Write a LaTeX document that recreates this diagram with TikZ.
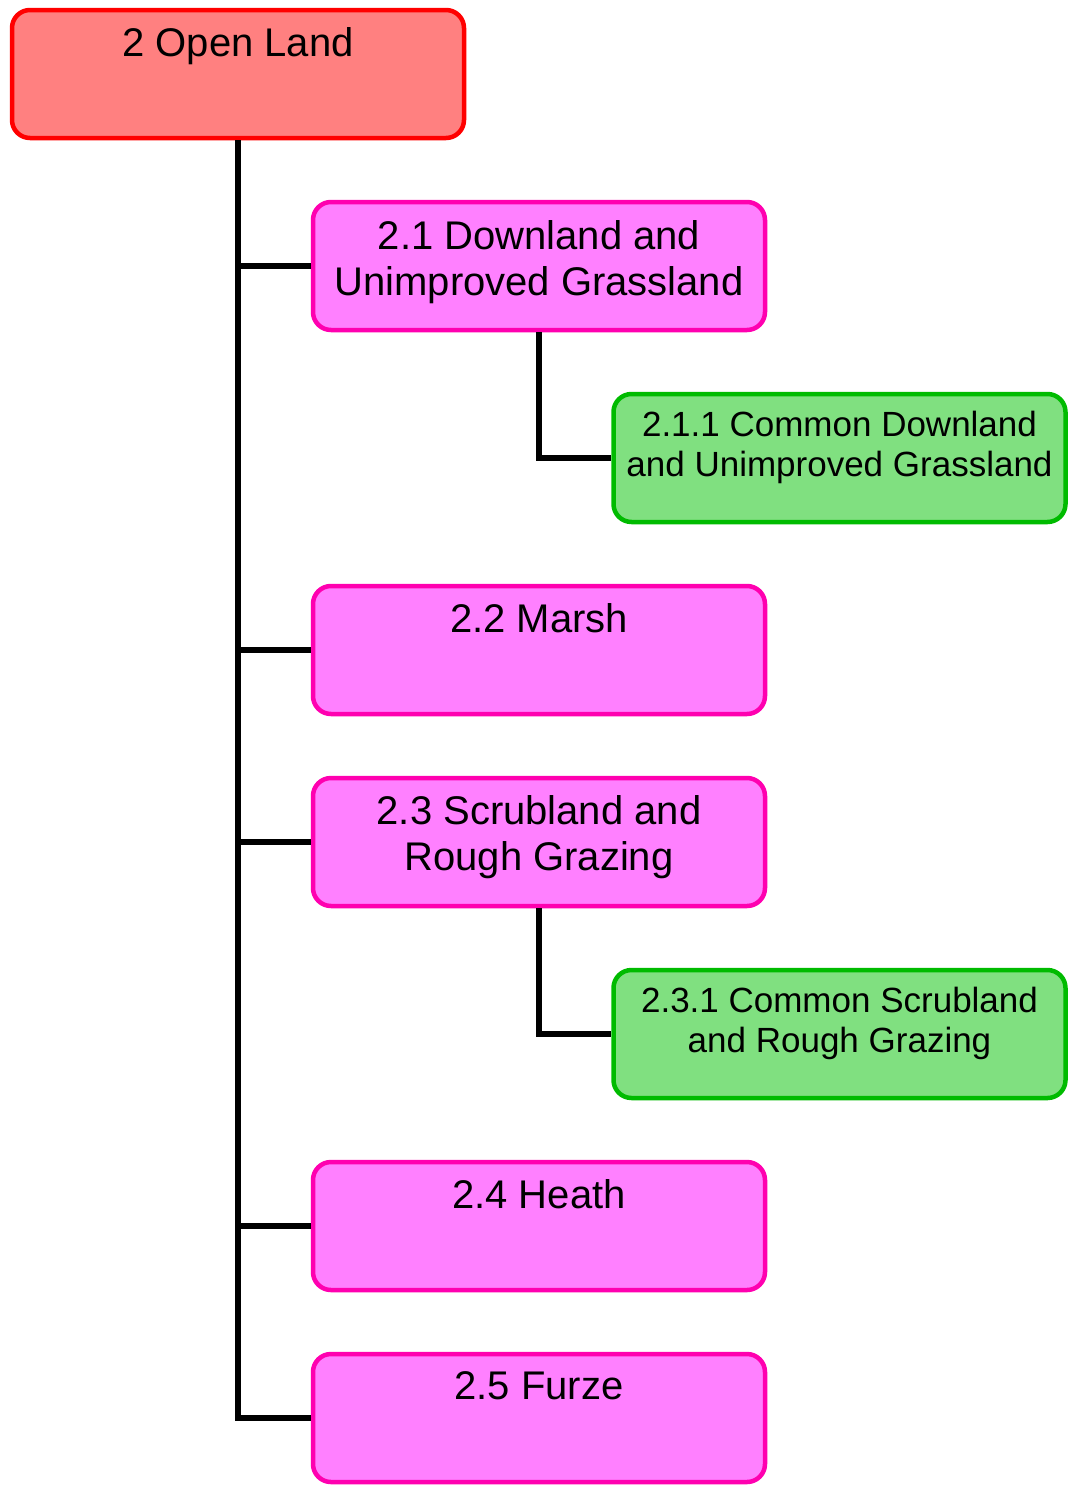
\documentclass[tikz,border=0pt]{standalone}
\usepackage{fontspec}
\setmainfont{Liberation Sans}
\definecolor{rootfill}{RGB}{255,128,128}
\definecolor{rootdraw}{RGB}{255,0,0}
\definecolor{pinkfill}{RGB}{255,128,255}
\definecolor{pinkdraw}{RGB}{255,0,176}
\definecolor{greenfill}{RGB}{128,224,128}
\definecolor{greendraw}{RGB}{0,187,0}
\tikzset{
  box/.style={rectangle, rounded corners=18pt, line width=4.5pt, minimum width=452pt, minimum height=128pt, inner sep=0pt},
  rootbox/.style={box, fill=rootfill, draw=rootdraw},
  pinkbox/.style={box, fill=pinkfill, draw=pinkdraw},
  greenbox/.style={box, fill=greenfill, draw=greendraw},
  bigtxt/.style={font=\fontsize{40}{46}\selectfont, align=center, inner sep=0pt},
  smalltxt/.style={font=\fontsize{35}{40}\selectfont, align=center, inner sep=0pt},
  conn/.style={line width=6pt, black}
}
\begin{document}
\begin{tikzpicture}[x=1pt,y=-1pt]
\useasboundingbox (0,0) rectangle (1069,1491);
% boxes (centres)
\node[rootbox]  (n2)   at (238,74)   {};
\node[pinkbox]  (n21)  at (539,266)  {};
\node[greenbox] (n211) at (839.5,458) {};
\node[pinkbox]  (n22)  at (539,650)  {};
\node[pinkbox]  (n23)  at (539,842)  {};
\node[greenbox] (n231) at (839.5,1034) {};
\node[pinkbox]  (n24)  at (539,1226) {};
\node[pinkbox]  (n25)  at (539,1418) {};
% texts
\node[bigtxt] (t2)   at (238,46)  {2 Open Land};
\node[bigtxt] (t21)  at (539,262) {2.1 Downland and\\Unimproved Grassland};
\node[smalltxt] (t211) at (839.5,447) {2.1.1 Common Downland\\and Unimproved Grassland};
\node[bigtxt] (t22)  at (539,618) {2.2 Marsh};
\node[bigtxt] (t23)  at (539,837) {2.3 Scrubland and\\Rough Grazing};
\node[smalltxt] (t231) at (839.5,1023) {2.3.1 Common Scrubland\\and Rough Grazing};
\node[bigtxt] (t24)  at (539,1194) {2.4 Heath};
\node[bigtxt] (t25)  at (539,1386) {2.5 Furze};
% connectors
\coordinate (trunkend) at (238,1418);
\draw[conn] (n2.south) -- (trunkend) -- (n25.west);
\draw[conn] (n21.west) -- (n21.west -| n2.south);
\draw[conn] (n22.west) -- (n22.west -| n2.south);
\draw[conn] (n23.west) -- (n23.west -| n2.south);
\draw[conn] (n24.west) -- (n24.west -| n2.south);
\draw[conn] (n21.south) |- (n211.west);
\draw[conn] (n23.south) |- (n231.west);
\end{tikzpicture}
\end{document}
